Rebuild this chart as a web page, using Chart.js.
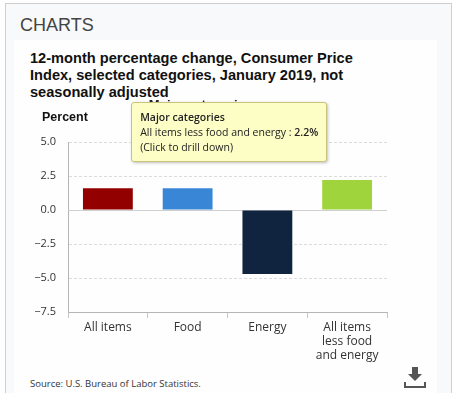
<!DOCTYPE html>
<html>
<head>
<meta charset="utf-8">
<script src="https://cdn.jsdelivr.net/npm/chart.js@4.4.1/dist/chart.umd.min.js"></script>
<style>
    body { margin: 0; background: #fff; font-family: Arial, "Liberation Sans", sans-serif; }
    .page { position: absolute; left: 5px; top: 3px; width: 445px; height: 400px; border: 1px solid #cfcfcf; border-bottom: none; background: #f8f9fa; }
    .panel { position: absolute; left: 14px; top: 40px; width: 423px; height: 360px; background: #fefefe; }
    .heading { position: absolute; left: 20px; top: 15px; font-size: 18px; color: #444; }
    .chart-title { position: absolute; left: 30px; top: 50px; width: 330px; font-size: 14.6px; font-weight: bold; line-height: 17px; color: #111; }
    .axis-title { position: absolute; left: 42px; top: 110px; font-size: 12.5px; font-weight: bold; color: #111; }
    .chart-box { position: absolute; left: 14px; top: 93px; width: 423px; height: 277px; }
    .source { position: absolute; left: 30px; top: 377px; font-family: "Open Sans", sans-serif; font-size: 9.5px; color: #333; }
    .download { position: absolute; left: 403px; top: 365px; }
    .tip { position: absolute; pointer-events: none; background: #fdfdc6; border: 1px solid #c9c47c; border-radius: 3px;
           box-shadow: 1px 1px 3px rgba(0,0,0,0.25); padding: 7px 8px 6px 8px; font-family: "Open Sans", sans-serif;
           font-size: 10.5px; line-height: 15px; color: #222; white-space: nowrap; }
    .tip b { font-weight: 600; }
</style>
</head>
<body>
<div class="page"></div>
<div class="panel"></div>
<div class="heading">CHARTS</div>
<div class="chart-title">12-month percentage change, Consumer Price Index, selected categories, January 2019, not seasonally adjusted</div>
<div class="chart-box"><canvas id="cpi"></canvas></div>
<div class="axis-title">Percent</div>
<div class="source">Source: U.S. Bureau of Labor Statistics.</div>
<svg class="download" width="24" height="24" viewBox="0 0 24 24">
    <path d="M9 2h6v7h4l-7 7-7-7h4z" fill="#555"/>
    <path d="M2 17v5h20v-5" fill="none" stroke="#555" stroke-width="2"/>
</svg>
<script>
const categories = [['All items'], ['Food'], ['Energy'], ['All items', 'less food', 'and energy']];
const categoryNames = ['All items', 'Food', 'Energy', 'All items less food and energy'];
const changes = [1.6, 1.6, -4.7, 2.2];
const barColors = ['#930000', '#3a86d6', '#10243f', '#9fd43c'];
const yTicks = [-7.5, -5.0, -2.5, 0.0, 2.5, 5.0];

const fmt = (v) => (v < 0 ? '\u2212' : '') + Math.abs(v).toFixed(1);

// solid line at zero, the other grid lines are dashed
const zeroLine = {
    id: 'zeroLine',
    beforeDatasetsDraw(chart) {
        const { ctx, chartArea, scales } = chart;
        const y = Math.round(scales.y.getPixelForValue(0)) + 0.5;
        ctx.save();
        ctx.strokeStyle = '#cfcfcf';
        ctx.lineWidth = 1;
        ctx.beginPath();
        ctx.moveTo(chartArea.left, y);
        ctx.lineTo(chartArea.right, y);
        ctx.stroke();
        ctx.restore();
    }
};

const tipEl = document.createElement('div');
tipEl.className = 'tip';
document.body.appendChild(tipEl);

const externalTip = ({ chart, tooltip }) => {
    if (tooltip.opacity === 0 || !tooltip.dataPoints || !tooltip.dataPoints.length) {
        tipEl.style.display = 'none';
        return;
    }
    const point = tooltip.dataPoints[0];
    tipEl.innerHTML = '<b>Major categories</b><br>' + categoryNames[point.dataIndex] + ' : <b>' +
        point.parsed.y.toFixed(1) + '%</b><br>(Click to drill down)';
    const box = chart.canvas.getBoundingClientRect();
    tipEl.style.display = 'block';
    tipEl.style.left = (box.left + tooltip.caretX - 216) + 'px';
    tipEl.style.top = (box.top + tooltip.caretY - 78) + 'px';
};

const chart = new Chart(document.getElementById('cpi'), {
    type: 'bar',
    data: {
        labels: categories,
        datasets: [{
            data: changes,
            backgroundColor: barColors,
            borderWidth: 0,
            barPercentage: 0.625,
            categoryPercentage: 1.0,
        }],
    },
    options: {
        responsive: true,
        maintainAspectRatio: false,
        animation: false,
        layout: { padding: { left: 0, right: 50, top: 0, bottom: 0 } },
        plugins: {
            legend: { display: false },
            title: {
                display: true,
                text: 'Major categories',
                color: '#222',
                font: { family: 'Arial', size: 13, weight: 'bold' },
                padding: { top: 5, bottom: 28.4 },
            },
            tooltip: { enabled: false, external: externalTip },
        },
        scales: {
            x: {
                grid: { display: true, offset: true, drawOnChartArea: false, drawTicks: true, tickLength: 6, color: '#c8c8c8' },
                border: { color: '#b5b5b5' },
                ticks: { color: '#333', font: { family: 'Open Sans', size: 12 }, padding: 2 },
                afterFit: (scale) => { scale.height = 58; },
            },
            y: {
                min: -7.5,
                max: 5,
                afterBuildTicks: (scale) => { scale.ticks = yTicks.map((v) => ({ value: v })); },
                ticks: { color: '#333', font: { family: 'Open Sans', size: 11 }, padding: 12, callback: (v) => fmt(v) },
                grid: { color: '#dcdcdc', drawTicks: false },
                border: { color: '#b5b5b5', dash: [3, 2] },
                afterFit: (scale) => { scale.width = 54; },
            },
        },
    },
    plugins: [zeroLine],
});

chart.tooltip.setActiveElements([{ datasetIndex: 0, index: 3 }], { x: 0, y: 0 });
chart.update();
</script>
</body>
</html>
